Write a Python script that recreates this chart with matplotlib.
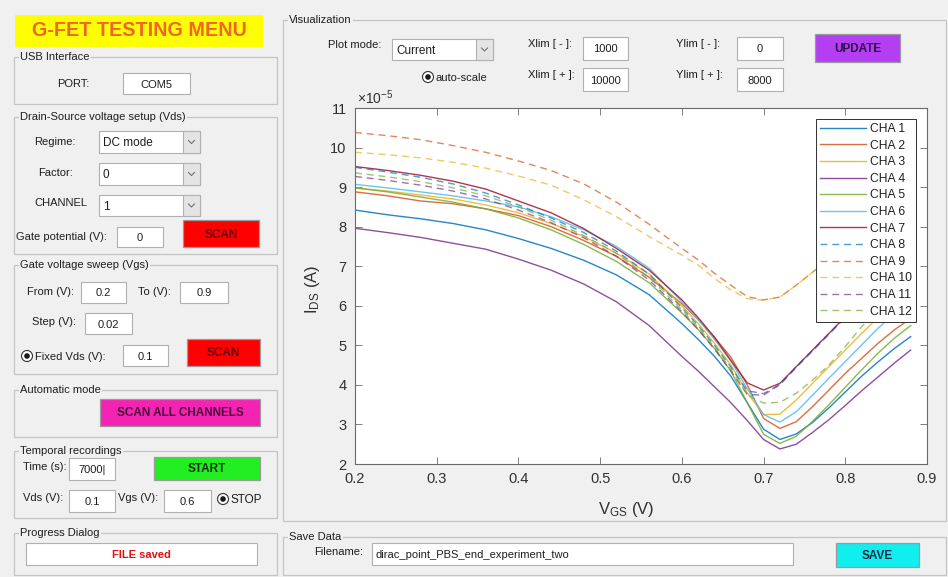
import matplotlib
matplotlib.use('Agg')
import matplotlib.pyplot as plt
from matplotlib.patches import Rectangle, Circle

# ---------------- data (I_DS in units of 1e-5 A) ----------------
vgs = [0.20, 0.24, 0.28, 0.32, 0.36, 0.40, 0.44, 0.48, 0.52, 0.56, 0.60, 0.62, 0.64,
       0.66, 0.68, 0.70, 0.72, 0.74, 0.76, 0.78, 0.80, 0.82, 0.84, 0.86, 0.88]
cha1 = [8.42, 8.30, 8.20, 8.08, 7.92, 7.70, 7.45, 7.15, 6.78, 6.28, 5.55, 5.15, 4.72,
        4.22, 3.55, 2.88, 2.62, 2.76, 3.05, 3.42, 3.82, 4.22, 4.58, 4.92, 5.22]
cha2 = [8.88, 8.78, 8.65, 8.58, 8.45, 8.28, 8.00, 7.65, 7.25, 6.72, 6.05, 5.65, 5.20,
        4.70, 4.00, 3.15, 2.90, 3.07, 3.45, 3.87, 4.29, 4.67, 5.05, 5.39, 5.68]
cha3 = [8.98, 8.90, 8.80, 8.70, 8.55, 8.35, 8.08, 7.75, 7.33, 6.80, 6.00, 5.55, 5.05,
        4.50, 3.80, 3.25, 3.26, 3.62, 4.04, 4.46, 4.88, 5.30, 5.70, 6.05, 6.35]
cha4 = [7.96, 7.85, 7.73, 7.58, 7.43, 7.18, 6.90, 6.55, 6.10, 5.50, 4.72, 4.35, 3.95,
        3.55, 3.10, 2.62, 2.38, 2.50, 2.80, 3.12, 3.48, 3.85, 4.20, 4.55, 4.88]
cha5 = [8.98, 8.88, 8.75, 8.62, 8.45, 8.22, 7.92, 7.55, 7.12, 6.58, 5.82, 5.40, 4.92,
        4.35, 3.55, 2.75, 2.52, 2.70, 3.08, 3.50, 3.94, 4.38, 4.80, 5.18, 5.50]
cha6 = [9.07, 8.98, 8.88, 8.78, 8.65, 8.50, 8.25, 7.92, 7.50, 6.95, 6.10, 5.65, 5.15,
        4.60, 3.90, 3.25, 3.06, 3.32, 3.74, 4.17, 4.59, 5.01, 5.43, 5.80, 6.10]
cha7 = [9.52, 9.42, 9.30, 9.15, 8.95, 8.65, 8.35, 7.95, 7.45, 6.90, 6.15, 5.70, 5.20,
        4.62, 4.05, 3.87, 4.04, 4.46, 4.88, 5.30, 5.72, 6.10, 6.50, 6.85, 7.20]
cha8 = [9.50, 9.38, 9.25, 9.08, 8.85, 8.55, 8.22, 7.85, 7.38, 6.80, 5.95, 5.50, 5.00,
        4.45, 3.85, 3.78, 4.00, 4.44, 4.86, 5.28, 5.70, 6.08, 6.48, 6.83, 7.18]
cha9 = [10.38, 10.30, 10.20, 10.05, 9.88, 9.66, 9.42, 9.08, 8.62, 8.06, 7.45, 7.16, 6.82,
        6.52, 6.23, 6.15, 6.22, 6.52, 6.85, 7.18, 7.50, 7.82, 8.12, 8.40, 8.65]
cha10 = [9.88, 9.82, 9.74, 9.63, 9.48, 9.28, 9.05, 8.68, 8.25, 7.75, 7.28, 7.03, 6.69,
         6.40, 6.18, 6.14, 6.22, 6.52, 6.85, 7.18, 7.50, 7.82, 8.12, 8.40, 8.65]
cha11 = [9.27, 9.17, 9.05, 8.90, 8.70, 8.42, 8.10, 7.72, 7.25, 6.65, 5.85, 5.40, 4.90,
         4.35, 3.76, 3.74, 4.02, 4.46, 4.88, 5.30, 5.72, 6.10, 6.50, 6.85, 7.20]
cha12 = [9.36, 9.26, 9.14, 8.98, 8.78, 8.50, 8.16, 7.78, 7.32, 6.72, 5.90, 5.45, 4.95,
         4.40, 3.75, 3.54, 3.56, 3.79, 4.12, 4.50, 4.97, 5.47, 5.90, 6.30, 6.70]
labels = ['CHA 1', 'CHA 2', 'CHA 3', 'CHA 4', 'CHA 5', 'CHA 6', 'CHA 7',
          'CHA 8', 'CHA 9', 'CHA 10', 'CHA 11', 'CHA 12']
series = [cha1, cha2, cha3, cha4, cha5, cha6, cha7, cha8, cha9, cha10, cha11, cha12]
xticks = [0.2, 0.3, 0.4, 0.5, 0.6, 0.7, 0.8, 0.9]
yticks = [2, 3, 4, 5, 6, 7, 8, 9, 10, 11]

# ---------------- styles ----------------
matlab = ['#0072BD', '#D95319', '#EDB120', '#7E2F8E', '#77AC30', '#4DBEEE', '#A2142F']
BG = '#f0f0f0'
FONT = 'Liberation Sans'
plt.rcParams['font.family'] = [FONT, 'DejaVu Sans']
plt.rcParams['mathtext.fontset'] = 'custom'
plt.rcParams['mathtext.rm'] = FONT
plt.rcParams['mathtext.it'] = FONT + ':italic'

W, H = 948, 577
fig = plt.figure(figsize=(W / 100, H / 100), dpi=100, facecolor=BG)
gui = fig.add_axes([0, 0, 1, 1])
gui.set_xlim(0, W)
gui.set_ylim(H, 0)
gui.axis('off')

TXT = '#1e1e1e'


def txt(x, y, s, size=8, ha='left', color=TXT, weight='normal'):
    gui.text(x, y + 1, s, fontsize=size, ha=ha, va='center', color=color, fontweight=weight)


def panel(x0, y0, x1, y1, title):
    gui.add_patch(Rectangle((x0, y0), x1 - x0, y1 - y0, fill=False, ec='#c4c4c4', lw=0.9))
    gui.text(x0 + 6, y0, title, fontsize=8, ha='left', va='center', color=TXT,
             bbox=dict(fc=BG, ec='none', pad=1))


def box(x0, y0, x1, y1, s='', color=TXT, weight='normal', ha='center', size=8):
    gui.add_patch(Rectangle((x0, y0), x1 - x0, y1 - y0, fc='white', ec='#b0b0b0', lw=0.8))
    if ha == 'center':
        gui.text((x0 + x1) / 2, (y0 + y1) / 2 + 1, s, fontsize=size, ha='center', va='center',
                 color=color, fontweight=weight)
    else:
        gui.text(x0 + 4, (y0 + y1) / 2 + 1, s, fontsize=size, ha='left', va='center',
                 color=color, fontweight=weight)


def dropdown(x0, y0, x1, y1, s):
    box(x0, y0, x1, y1, s, ha='left', size=8.5)
    gui.add_patch(Rectangle((x1 - 17, y0), 17, y1 - y0, fc='#e4e4e4', ec='#b0b0b0', lw=0.8))
    cx, cy = x1 - 8.5, (y0 + y1) / 2
    gui.plot([cx - 3, cx, cx + 3], [cy - 1.5, cy + 1.5, cy - 1.5], color='#707070', lw=0.8)


def button(x0, y0, x1, y1, s, fc, tc):
    gui.add_patch(Rectangle((x0, y0), x1 - x0, y1 - y0, fc=fc, ec='#9a9a9a', lw=0.9))
    gui.text((x0 + x1) / 2, (y0 + y1) / 2 + 1, s, fontsize=8.5, ha='center', va='center',
             color=tc, fontweight='bold')


def radio(cx, cy):
    gui.add_patch(Circle((cx, cy), 5.5, fc='white', ec='#333333', lw=0.8))
    gui.add_patch(Circle((cx, cy), 2.8, fc='#1a1a1a', ec='none'))


# ---------------- left column ----------------
gui.add_patch(Rectangle((15, 15), 248, 32, fc='#ffff00', ec='none'))
gui.text(139, 31, 'G-FET TESTING MENU', fontsize=14.2, fontweight='bold', color='#f0662a',
         ha='center', va='center')

panel(14, 57, 277, 104, 'USB Interface')
txt(57, 83, 'PORT:')
box(123, 73, 190, 94, 'COM5')

panel(14, 117, 277, 254, 'Drain-Source voltage setup (Vds)')
txt(34, 141, 'Regime:')
dropdown(99, 131, 200, 153, 'DC mode')
txt(38, 172, 'Factor:')
dropdown(99, 163, 200, 185, '0')
txt(34, 202, 'CHANNEL')
dropdown(99, 195, 200, 216, '1')
txt(16, 236, 'Gate potential (V):')
box(117, 227, 163, 247, '0')
button(183, 220, 259, 247, 'SCAN', '#ff0000', '#6a0000')

panel(14, 265, 277, 374, 'Gate voltage sweep (Vgs)')
txt(27, 291, 'From (V):')
box(81, 282, 126, 303, '0.2')
txt(138, 291, 'To (V):')
box(180, 282, 228, 303, '0.9')
txt(32, 321, 'Step (V):')
box(85, 313, 132, 334, '0.02')
radio(27, 356)
txt(35, 356, 'Fixed Vds (V):')
box(123, 345, 168, 366, '0.1')
button(187, 339, 260, 366, 'SCAN', '#ff0000', '#6a0000')

panel(14, 390, 277, 437, 'Automatic mode')
button(100, 399, 260, 426, 'SCAN ALL CHANNELS', '#f523b4', '#4a0a38')

panel(14, 451, 277, 518, 'Temporal recordings')
txt(23, 466, 'Time (s):')
box(69, 458, 115, 480, '7000|')
button(154, 457, 260, 480, 'START', '#22ee22', '#0a300a')
txt(23, 497, 'Vds (V):')
box(69, 490, 115, 512, '0.1')
txt(118, 497, 'Vgs (V):')
box(164, 490, 211, 512, '0.6')
radio(223, 499)
txt(231, 499, 'STOP', size=8.5)

panel(14, 533, 277, 575, 'Progress Dialog')
box(26, 543, 257, 565, 'FILE saved', color='#e01010', weight='bold')

# ---------------- right column ----------------
panel(283, 20, 946, 521, 'Visualization')
txt(328, 44, 'Plot mode:')
dropdown(392, 39, 493, 60, 'Current')
txt(528, 43, 'Xlim [ - ]:')
box(583, 37, 628, 60, '1000')
txt(676, 43, 'Ylim [ - ]:')
box(737, 37, 783, 60, '0')
button(815, 34, 900, 62, 'UPDATE', '#b43ff2', '#2a0a48')
radio(428, 77)
txt(436, 77, 'auto-scale')
txt(528, 74, 'Xlim [ + ]:')
box(583, 68, 628, 91, '10000')
txt(676, 74, 'Ylim [ + ]:')
box(737, 68, 783, 91, '8000')

panel(283, 537, 946, 575, 'Save Data')
txt(314, 551, 'Filename:')
box(372, 543, 793, 565, 'dirac_point_PBS_end_experiment_two', ha='left')
button(836, 543, 919, 567, 'SAVE', '#11eeee', '#0a2a48')

# ---------------- the plot ----------------
L, R, T, B = 355, 927, 108, 464
ax = fig.add_axes([L / W, 1 - B / H, (R - L) / W, (B - T) / H])
ax.set_facecolor('white')
for i, (vals, lab) in enumerate(zip(series, labels)):
    ls = '-' if i < 7 else (0, (5, 3.5))
    ax.plot(vgs, vals, color=matlab[i % 7], ls=ls, lw=1.0, label=lab,
            alpha=0.85 if i < 7 else 0.7)

ax.set_xlim(0.2, 0.9)
ax.set_ylim(2, 11)
ax.set_xticks(xticks)
ax.set_xticklabels([f'{v:g}' for v in xticks])
ax.set_yticks(yticks)
ax.tick_params(direction='in', length=5, width=0.6, top=True, right=True,
               labelsize=10.5, colors='#6a6a6a', labelcolor='#303030', pad=6)
for sp in ax.spines.values():
    sp.set_color('#6a6a6a')
    sp.set_linewidth(0.8)

ax.set_ylabel(r'I$_{\mathrm{DS}}$ (A)', fontsize=12, color='#303030')
ax.yaxis.set_label_coords((322 - L) / (R - L), 0.49)
ax.set_xlabel(r'V$_{\mathrm{GS}}$ (V)', fontsize=12, color='#303030')
ax.xaxis.set_label_coords((626 - L) / (R - L), -(500 - B) / (B - T))
ax.text(0.003, 1.004, r'$\times$10$^{-5}$', transform=ax.transAxes, ha='left', va='bottom',
        fontsize=10, color='#303030')

leg = ax.legend(loc='upper right', fontsize=8.7, frameon=True, fancybox=False,
                framealpha=1, edgecolor='#303030', handlelength=3.8, handletextpad=0.35,
                labelspacing=0.38, borderaxespad=0.9, borderpad=0.35)
leg.get_frame().set_linewidth(0.7)
for t in leg.get_texts():
    t.set_color('#202020')

fig.savefig('out.png', dpi=100, facecolor=BG)
